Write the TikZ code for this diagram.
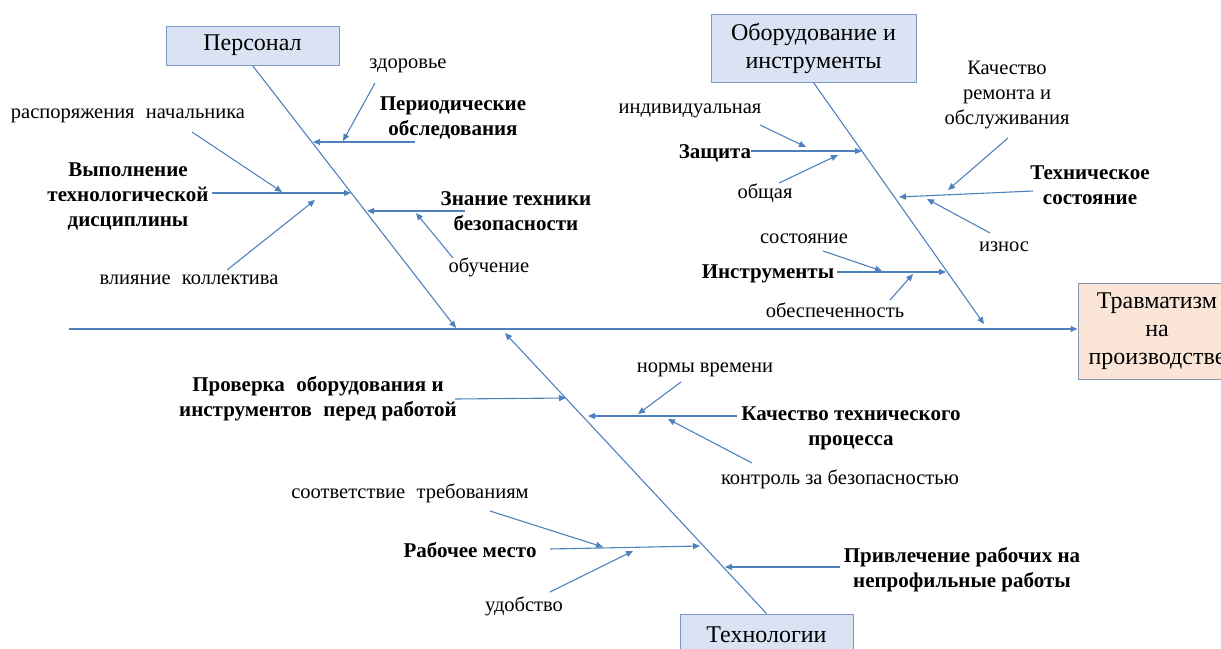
\documentclass[tikz,border=0pt]{standalone}
\usepackage{fontspec}
\setmainfont{Liberation Serif}
\usetikzlibrary{arrows.meta}

\definecolor{bonecol}{RGB}{79,129,189}
\definecolor{boxblue}{RGB}{218,227,243}
\definecolor{boxpeach}{RGB}{251,229,214}
\definecolor{boxline}{RGB}{127,152,196}
\definecolor{peachline}{RGB}{132,151,176}

\begin{document}
\begin{tikzpicture}[x=1pt,y=-1pt,
    arr/.style={draw=bonecol, line width=1.1pt, -{Triangle[length=7pt,width=6pt]}},
    cat/.style={draw=boxline, fill=boxblue, line width=1pt, inner sep=0pt,
        align=center, font=\fontsize{24}{28}\selectfont},
    lbl/.style={inner sep=0pt, align=center, font=\fontsize{20.5}{25}\selectfont},
    blbl/.style={lbl, font=\fontsize{21}{25}\selectfont\bfseries}]
    \useasboundingbox (0,0) rectangle (1221,648);

    % category boxes
    \node[cat, minimum width=173pt, minimum height=39pt] (pers) at (252.5,45.5) {Персонал};
    \node[cat, minimum width=205pt, minimum height=68pt] (obor) at (813.5,48) {Оборудование и\\инструменты};
    \node[cat, minimum width=173pt, minimum height=42pt] (tech) at (766.5,635) {Технологии};
    \node[cat, draw=peachline, fill=boxpeach, minimum width=158pt, minimum height=96pt] (trav) at (1157,331) {Травматизм\\на\\производстве};

    % main spine
    \coordinate (s0) at (69,329);
    \draw[arr] (s0) -- (s0 -| trav.west);

    % bones
    \coordinate (pb) at (456,328);
    \coordinate (ob) at (984,324);
    \coordinate (tb) at (505,333);
    \draw[arr] (pers.south) -- (pb);
    \draw[arr] (obor.south) -- (ob);
    \draw[arr] (tech.north) -- (tb);

    % Персонал: labels
    \node[lbl] (zdor) at (408,66) {здоровье};
    \node[blbl] (period) at (453,118) {Периодические\\обследования};
    \node[lbl] (rasp) at (128,116) {распоряжения\hspace{0.3em} начальника};
    \node[blbl] (vyp) at (128,196) {Выполнение\\технологической\\дисциплины};
    \node[lbl] (vliy) at (189,280) {влияние\hspace{0.3em} коллектива};
    \node[blbl] (znan) at (516,211) {Знание техники\\безопасности};
    \node[lbl] (obuch) at (489,267) {обучение};

    % Персонал: arrows
    \coordinate (zdor1) at (375,83);    \coordinate (zdor2) at (343,141);
    \coordinate (period1) at (415,142); \coordinate (period2) at (313,142);
    \coordinate (rasp1) at (192,132);   \coordinate (rasp2) at (282,192);
    \coordinate (vyp1) at (212,193);    \coordinate (vyp2) at (351,193);
    \coordinate (vliy1) at (227,270);   \coordinate (vliy2) at (315,200);
    \coordinate (znan1) at (465,211);   \coordinate (znan2) at (367,211);
    \coordinate (obuch1) at (453,258);  \coordinate (obuch2) at (416,213);
    \draw[arr] (period1) -- (period2);
    \draw[arr] (zdor1) -- (zdor2);
    \draw[arr] (vyp1) -- (vyp2);
    \draw[arr] (rasp1) -- (rasp2);
    \draw[arr] (vliy1) -- (vliy2);
    \draw[arr] (znan1) -- (znan2);
    \draw[arr] (obuch1) -- (obuch2);

    % Оборудование: labels
    \node[lbl] (indiv) at (690,111) {индивидуальная};
    \node[blbl] (zasch) at (715,153) {Защита};
    \node[lbl] (obsh) at (765,193) {общая};
    \node[lbl] (kach) at (1007,95) {Качество\\ремонта и\\обслуживания};
    \node[blbl] (tsost) at (1090,185) {Техническое\\состояние};
    \node[lbl] (izn) at (1004,247) {износ};
    \node[lbl] (sost) at (804,239) {состояние};
    \node[blbl] (instr) at (768,274) {Инструменты};
    \node[lbl] (obesp) at (835,310) {обеспеченность};

    % Оборудование: arrows
    \coordinate (zasch1) at (751,151);  \coordinate (zasch2) at (862,151);
    \coordinate (indiv1) at (760,125);  \coordinate (indiv2) at (806,147);
    \coordinate (obsh1) at (779,183);   \coordinate (obsh2) at (838,155);
    \coordinate (tsost1) at (1033,191); \coordinate (tsost2) at (899,197);
    \coordinate (kach1) at (1008,138);  \coordinate (kach2) at (948,190);
    \coordinate (izn1) at (990,233);    \coordinate (izn2) at (927,199);
    \coordinate (instr1) at (837,272);  \coordinate (instr2) at (946,272);
    \coordinate (sost1) at (823,251);   \coordinate (sost2) at (882,271);
    \coordinate (obesp1) at (890,300);  \coordinate (obesp2) at (913,274);
    \draw[arr] (zasch1) -- (zasch2);
    \draw[arr] (indiv1) -- (indiv2);
    \draw[arr] (obsh1) -- (obsh2);
    \draw[arr] (tsost1) -- (tsost2);
    \draw[arr] (kach1) -- (kach2);
    \draw[arr] (izn1) -- (izn2);
    \draw[arr] (instr1) -- (instr2);
    \draw[arr] (sost1) -- (sost2);
    \draw[arr] (obesp1) -- (obesp2);

    % Технологии: labels
    \node[blbl] (prov) at (318,399) {Проверка\hspace{0.3em} оборудования и\\инструментов\hspace{0.3em} перед работой};
    \node[lbl] (norm) at (705,370) {нормы времени};
    \node[blbl] (ktp) at (851,428) {Качество технического\\процесса};
    \node[lbl] (kontr) at (840,479) {контроль за безопасностью};
    \node[lbl] (soot) at (410,493) {соответствие\hspace{0.3em} требованиям};
    \node[blbl] (rabm) at (470,550) {Рабочее место};
    \node[lbl] (udob) at (524,606) {удобство};
    \node[blbl] (privl) at (962,570) {Привлечение рабочих на\\непрофильные работы};

    % Технологии: arrows
    \coordinate (prov1) at (455,399);   \coordinate (prov2) at (566,398);
    \coordinate (ktp1) at (737,416);    \coordinate (ktp2) at (588,416);
    \coordinate (norm1) at (681,382);   \coordinate (norm2) at (638,414);
    \coordinate (kontr1) at (752,463);  \coordinate (kontr2) at (668,419);
    \coordinate (rabm1) at (550,549);   \coordinate (rabm2) at (700,546);
    \coordinate (soot1) at (490,511);   \coordinate (soot2) at (603,547);
    \coordinate (udob1) at (550,592);   \coordinate (udob2) at (633,551);
    \coordinate (privl1) at (840,567);  \coordinate (privl2) at (725,567);
    \draw[arr] (prov1) -- (prov2);
    \draw[arr] (ktp1) -- (ktp2);
    \draw[arr] (norm1) -- (norm2);
    \draw[arr] (kontr1) -- (kontr2);
    \draw[arr] (rabm1) -- (rabm2);
    \draw[arr] (soot1) -- (soot2);
    \draw[arr] (udob1) -- (udob2);
    \draw[arr] (privl1) -- (privl2);
\end{tikzpicture}
\end{document}
